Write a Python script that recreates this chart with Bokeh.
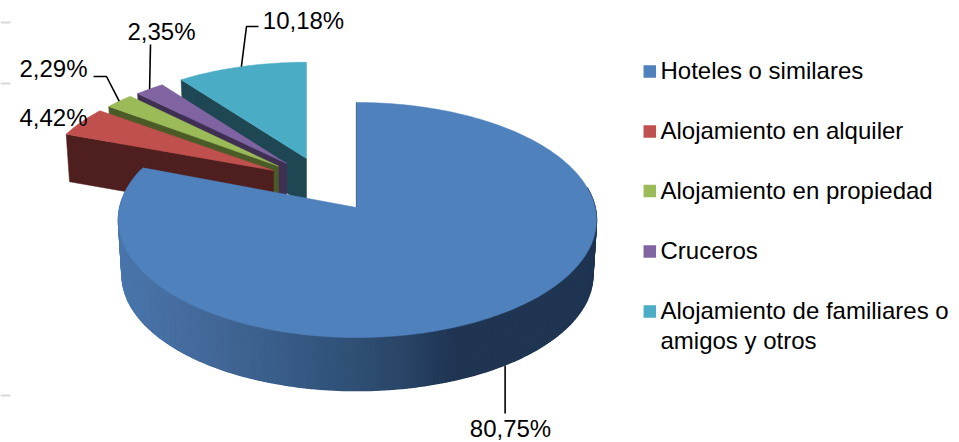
import numpy as np
from bokeh.plotting import figure
from bokeh.models import Range1d
from bokeh.core.properties import value
from bokeh.embed import file_html
from bokeh.resources import INLINE

# ---- data ----
categories = ["Hoteles o similares", "Alojamiento en alquiler", "Alojamiento en propiedad",
              "Cruceros", "Alojamiento de familiares o amigos y otros"]
shares = [80.75, 4.42, 2.29, 2.35, 10.18]
top_colors = ["#4f81bd", "#c0504d", "#9bbb59", "#8064a2", "#4aacc5"]
side_colors = ["#1f3552", "#4e1f1e", "#4a5b27", "#3e2f53", "#1e4753"]

# ---- layout (exploded slices: apex per slice, perspective of the tilted disc) ----
FONT = value("Liberation Sans")
FS = "24px"
K = 0.1064
apex = [(356, 207), (273, 170), (278, 165.7), (286, 163), (306, 158)]
AX = [238.6, 230, 225, 226, 228]
BY = [116.2, 106.5, 106.5, 106.5, 106.5]
DEPTH = [55, 47, 47, 47, 47]
SHRINK = [0.985, 0.984, 0.984, 0.984, 0.984]
LEFT_TRIM = [0.992, 1, 1, 1, 1]

p = figure(width=959, height=442, output_backend="svg", toolbar_location=None,
           x_range=Range1d(0, 959), y_range=Range1d(442, 0), min_border=0,
           outline_line_color=None, background_fill_color="white", border_fill_color="white")
p.axis.visible = False
p.grid.visible = False


def rim(i, theta, bottom=False):
    t = np.radians(theta)
    u, v = np.sin(t), -np.cos(t)
    u = np.where(u < 0, u * LEFT_TRIM[i], u)
    w = 1 - K * v
    s = SHRINK[i] if bottom else 1.0
    d = DEPTH[i] if bottom else 0.0
    return apex[i][0] + s * AX[i] * u / w, apex[i][1] + s * BY[i] * v / w + d


edges = np.concatenate([[0], np.cumsum(shares)]) / sum(shares) * 360

# margin marks of the source page
for y in (22, 83, 395):
    p.line([0, 10], [y, y], line_color="#d9d9d9", line_width=2)

# small slices, back to front
for i in (4, 3, 2, 1):
    a0, a1 = edges[i], edges[i + 1]
    x0, y0 = rim(i, a0)
    x0b, y0b = rim(i, a0, True)
    ax, ay = apex[i]
    p.patch([float(x0), ax, ax, float(x0b)], [float(y0), ay, ay + DEPTH[i], float(y0b)],
            fill_color=side_colors[i], line_color=side_colors[i], line_width=0.5)
    th = np.linspace(a0, a1, 40)
    xs, ys = rim(i, th)
    p.patch(np.r_[ax, xs], np.r_[ay, ys], fill_color=top_colors[i],
            line_color=top_colors[i], line_width=0.5)

# main slice: shaded outer wall, cut-edge, top face
grad_x = [120, 200, 300, 400, 455, 600]
grad_rgb = np.array([[74, 118, 172], [68, 106, 155], [54, 90, 132], [42, 70, 104], [31, 53, 82], [31, 53, 82]])
th = np.arange(80, edges[1] + 1.0, 1.0)
th = th[th <= edges[1]]
xs_w, ys_w, cols = [], [], []
for a, b in zip(th[:-1], th[1:]):
    xa, ya = rim(0, a)
    xb, yb = rim(0, b)
    xa2, ya2 = rim(0, a, True)
    xb2, yb2 = rim(0, b, True)
    xs_w.append([float(xa), float(xb), float(xb2), float(xa2)])
    ys_w.append([float(ya), float(yb), float(yb2), float(ya2)])
    m = float(xa + xb) / 2
    c = [int(np.interp(m, grad_x, grad_rgb[:, k])) for k in range(3)]
    cols.append("#%02x%02x%02x" % tuple(c))
p.patches(xs_w, ys_w, fill_color=cols, line_color=cols, line_width=1.5)
p.patches(xs_w, ys_w, fill_color=cols, line_color=None)

tx, ty = rim(0, 0.0)
p.line([apex[0][0], float(tx)], [apex[0][1], float(ty)], line_color=side_colors[0], line_width=1.2)
th = np.linspace(0, edges[1], 240)
xs, ys = rim(0, th)
p.patch(np.r_[apex[0][0], xs], np.r_[apex[0][1], ys], fill_color=top_colors[0],
        line_color=top_colors[0], line_width=0.5)

# data labels with leaders: start on the rim at each slice's mid angle
labels = ["%.2f%%" % v for v in shares]
labels = [s.replace(".", ",") for s in labels]
mids = (edges[:-1] + edges[1:]) / 2
label_pos = [(510, 428), (53, 117), (53, 68), (161, 31), (303, 20)]
elbows = [[], [], [(106, 76), (93, 76)], [(150, 44)], [(246, 26), (258, 26)]]
for i in range(5):
    if elbows[i]:
        sx, sy = rim(i, mids[i])
        p.line([float(sx)] + [e[0] for e in elbows[i]], [float(sy)] + [e[1] for e in elbows[i]],
               line_color="black", line_width=1.6)
# main slice's leader drops straight down from the wall
sx = float(rim(0, mids[0])[0])
sy = float(rim(0, mids[0], True)[1])
p.line([sx, sx], [sy, 413], line_color="black", line_width=1.6)

p.text([q[0] for q in label_pos], [q[1] for q in label_pos], text=labels,
       text_font=FONT, text_font_size=FS, text_color="#000000",
       text_align="center", text_baseline="middle")

# legend
legend_y = [71, 131, 190.5, 251, 311]
p.scatter([649.3] * 5, legend_y, marker="square", size=12.5, fill_color=top_colors, line_color=None)
wrapped = [c.replace("familiares o amigos", "familiares o\namigos") for c in categories]
p.text([660] * 5, [y - 14.5 for y in legend_y], text=wrapped, text_font=FONT, text_font_size=FS,
       text_color="#000000", text_align="left", text_baseline="top", text_line_height=1.1)

open("out.html", "w").write(file_html(p, INLINE))
